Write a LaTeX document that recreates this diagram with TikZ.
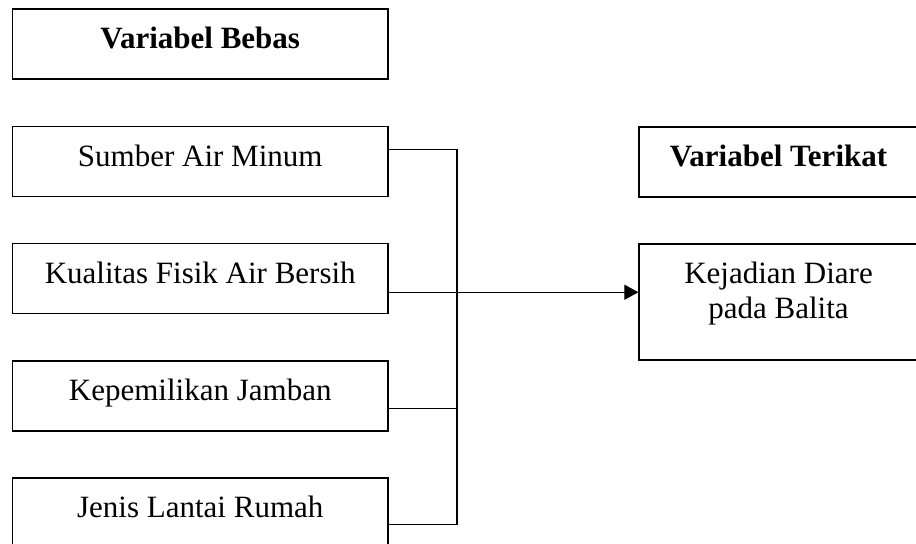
\documentclass[tikz,border=0pt]{standalone}
\usepackage{fontspec}
\setmainfont{Liberation Serif}
\usetikzlibrary{arrows.meta,calc}

\tikzset{
  boxline/.style={draw, line width=0.5pt, inner sep=0pt, minimum height=28pt},
  varbox/.style={boxline, minimum width=150.2pt, text height=0.7em, text depth=0.3em},
  outbox/.style={boxline, minimum width=111.6pt},
  link/.style={line width=0.5pt},
}

\begin{document}
\begin{tikzpicture}[x=0.4pt, y=-0.4pt, font=\fontsize{12.4}{14}\selectfont]
  \useasboundingbox (0,0) rectangle (916,544);
  \clip (0,0) rectangle (916,544);

  % Variabel bebas (kiri)
  \node[varbox] (bebas)    at (200.25,44)    {\textbf{Variabel Bebas}};
  \node[varbox] (sumber)   at (200.25,161.5) {Sumber Air Minum};
  \node[varbox] (kualitas) at (200.25,278.5) {Kualitas Fisik Air Bersih};
  \node[varbox] (jamban)   at (200.25,396)   {Kepemilikan Jamban};
  \node[varbox] (lantai)   at (200.25,513)   {Jenis Lantai Rumah};

  % Variabel terikat (kanan)
  \node[outbox, text height=0.7em, text depth=0.3em] (terikat) at (778.5,162) {\textbf{Variabel Terikat}};
  \node[outbox, minimum height=46.4pt, align=center] (diare) at (778.5,302)
    {Kejadian Diare\\pada Balita\rule[-9.5pt]{0pt}{1pt}};

  % Titik keluar garis
  \coordinate (s1) at ($(sumber.north east)!0.336!(sumber.south east)$);
  \coordinate (k1) at ($(kualitas.north east)!0.693!(kualitas.south east)$);
  \coordinate (j1) at ($(jamban.north east)!0.671!(jamban.south east)$);
  \coordinate (l1) at ($(lantai.north east)!0.657!(lantai.south east)$);
  \coordinate (hub) at (457,0 |- k1);

  % Garis penghubung
  \draw[link] (s1) -| (hub);
  \draw[link] (j1) -| (hub);
  \draw[link] (l1) -| (hub);
  \draw[link, -{Triangle[length=5.6pt,width=6pt]}] (k1) -- (k1 -| diare.west);
\end{tikzpicture}
\end{document}
